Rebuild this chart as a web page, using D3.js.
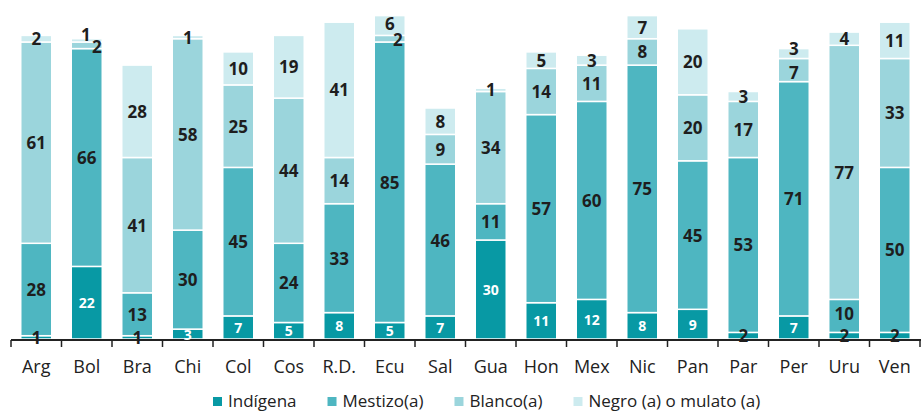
<!DOCTYPE html>
<html>
<head>
<meta charset="utf-8">
<script src="https://cdn.jsdelivr.net/npm/d3@7"></script>
<style>
  body { margin: 0; background: #fff; }
  text { font-family: "Open Sans", sans-serif; }
</style>
</head>
<body>
<div id="chart"></div>
<script>
// data (percent)
var countries = ["Arg","Bol","Bra","Chi","Col","Cos","R.D.","Ecu","Sal","Gua","Hon","Mex","Nic","Pan","Par","Per","Uru","Ven"];
var indigena = [1,22,1,3,7,5,8,5,7,30,11,12,8,9,2,7,2,2];
var mestizo  = [28,66,13,30,45,24,33,85,46,11,57,60,75,45,53,71,10,50];
var blanco   = [61,2,41,58,25,44,14,2,9,34,14,11,8,20,17,7,77,33];
var negro    = [2,1,28,1,10,19,41,6,8,1,5,3,7,20,3,3,4,11];
var seriesNames = ["Indígena","Mestizo(a)","Blanco(a)","Negro (a) o mulato (a)"];
var colors = ["#0899a4","#4eb6c1","#9bd5dc","#cdebef"];

var width = 921, height = 411;
var baseY = 339;

var rows = countries.map(function(c, i) {
  return { c: c, s0: indigena[i], s1: mestizo[i], s2: blanco[i], s3: negro[i] };
});
var keys = ["s0","s1","s2","s3"];
var stacked = d3.stack().keys(keys)(rows);

var svg = d3.select("#chart").append("svg")
    .attr("width", width)
    .attr("height", height);

var x = d3.scaleBand()
    .domain(countries)
    .range([11, 920])
    .paddingInner(0.386)
    .paddingOuter(0.193);

var y = d3.scaleLinear()
    .domain([0, 100])
    .range([baseY, 9]);

// bars
var layers = svg.selectAll(".layer")
    .data(stacked)
  .enter().append("g")
    .attr("class", "layer")
    .style("fill", function(d, i) { return colors[i]; });

layers.selectAll("rect")
    .data(function(d) { return d; })
  .enter().append("rect")
    .attr("x", function(d) { return x(d.data.c); })
    .attr("width", x.bandwidth())
    .attr("y", function(d) { return y(d[1]); })
    .attr("height", function(d) { return y(d[0]) - y(d[1]); })
    .style("stroke", "#fff")
    .style("stroke-width", 1.5);

// axis
var step = x.step();
svg.append("line")
    .attr("x1", 11).attr("x2", 921)
    .attr("y1", baseY + 1).attr("y2", baseY + 1)
    .style("stroke", "#222").style("stroke-width", 2);

svg.selectAll(".tk")
    .data(d3.range(countries.length + 1))
  .enter().append("line")
    .attr("x1", function(i) { return 11 + i * step; })
    .attr("x2", function(i) { return 11 + i * step; })
    .attr("y1", baseY + 1).attr("y2", baseY + 8)
    .style("stroke", "#222").style("stroke-width", 1.5);

svg.selectAll(".cat")
    .data(countries)
  .enter().append("text")
    .attr("x", function(d) { return x(d) + x.bandwidth() / 2; })
    .attr("y", 373)
    .attr("text-anchor", "middle")
    .style("font-size", "18px")
    .style("fill", "#222")
    .text(function(d) { return d; });

// value labels (drawn over the axis), small overlaps nudged
var nudge = {
  "Bol-s3": [-1, -6], "Bol-s2": [10, 1],
  "Ecu-s3": [0, -2], "Ecu-s2": [8, 1],
  "Per-s3": [0, -5], "Per-s2": [0, 2], "Uru-s1": [0, -2]
};

stacked.forEach(function(layer, li) {
  svg.append("g").selectAll("text")
      .data(layer)
    .enter().append("text")
      .attr("text-anchor", "middle")
      .attr("dominant-baseline", "central")
      .attr("x", function(d) {
        var n = nudge[d.data.c + "-" + layer.key];
        return x(d.data.c) + x.bandwidth() / 2 + (n ? n[0] : 0);
      })
      .attr("y", function(d) {
        var n = nudge[d.data.c + "-" + layer.key];
        return (y(d[0]) + y(d[1])) / 2 + (n ? n[1] : 0);
      })
      .style("font-weight", "bold")
      .style("font-size", function(d) {
        var v = d[1] - d[0];
        return (li === 0 && v >= 3) ? "14px" : "17px";
      })
      .style("fill", function(d) {
        var v = d[1] - d[0];
        return (li === 0 && v >= 3) ? "#fff" : "#1e1e1e";
      })
      .text(function(d) { return d[1] - d[0]; });
});

// legend
var lx = 213;
seriesNames.forEach(function(name, i) {
  var g = svg.append("g").attr("transform", "translate(" + lx + ",0)");
  g.append("rect")
    .attr("x", 0).attr("y", 397)
    .attr("width", 9).attr("height", 9)
    .style("fill", colors[i]);
  var t = g.append("text")
    .attr("x", 15).attr("y", 407)
    .style("font-size", "17px")
    .style("fill", "#222")
    .text(name);
  lx += 15 + t.node().getComputedTextLength() + 31;
});
</script>
</body>
</html>
